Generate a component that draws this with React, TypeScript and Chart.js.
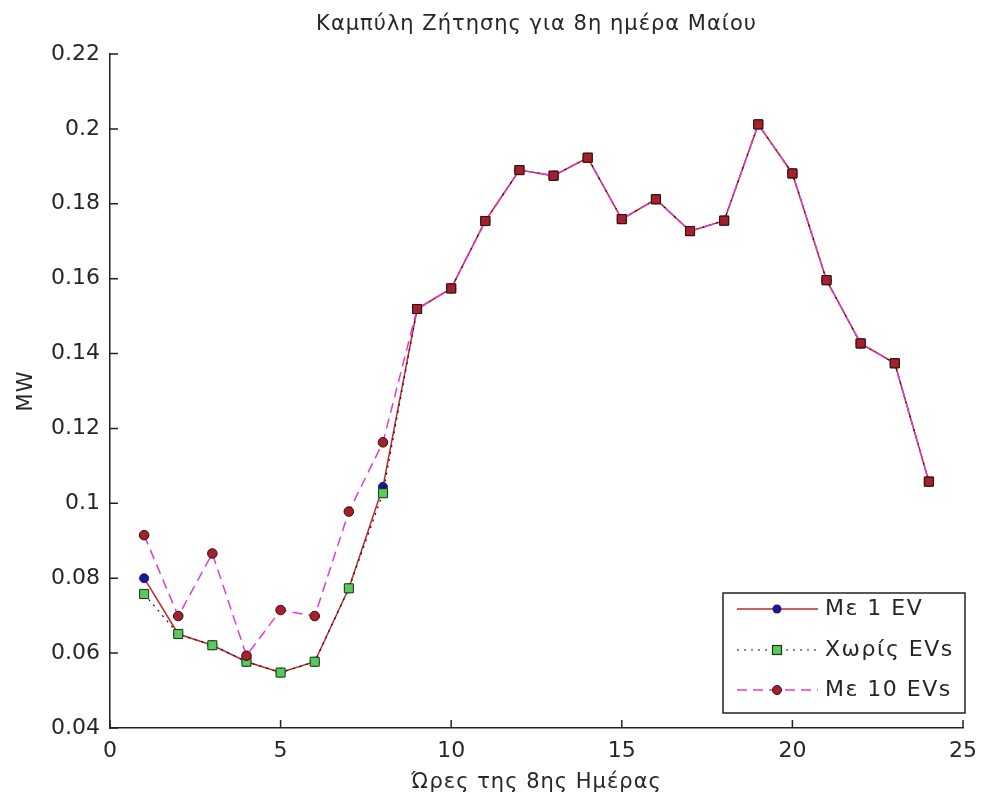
import React, { useEffect, useRef } from "react";
import { Chart, registerables } from "chart.js";

Chart.register(...registerables);

// ---- data ----
const hours = [1, 2, 3, 4, 5, 6, 7, 8, 9, 10, 11, 12, 13, 14, 15, 16, 17, 18, 19, 20, 21, 22, 23, 24];
const withOneEV = [0.080, 0.0651, 0.0621, 0.0577, 0.0548, 0.0577, 0.0773, 0.1044, 0.1519, 0.1574, 0.1754, 0.1890, 0.1875, 0.1923, 0.1759, 0.1812, 0.1727, 0.1755, 0.2012, 0.1881, 0.1596, 0.1427, 0.1374, 0.1058];
const withoutEVs = [0.0758, 0.0651, 0.0621, 0.0577, 0.0548, 0.0577, 0.0773, 0.1027, 0.1519, 0.1574, 0.1754, 0.1890, 0.1875, 0.1923, 0.1759, 0.1812, 0.1727, 0.1755, 0.2012, 0.1881, 0.1596, 0.1427, 0.1374, 0.1058];
const withTenEVs = [0.0915, 0.0699, 0.0866, 0.0593, 0.0715, 0.0699, 0.0978, 0.1163, 0.1519, 0.1574, 0.1754, 0.1890, 0.1875, 0.1923, 0.1759, 0.1812, 0.1727, 0.1755, 0.2012, 0.1881, 0.1596, 0.1427, 0.1374, 0.1058];
const xTicks = [0, 5, 10, 15, 20, 25];
const yTicks = [0.04, 0.06, 0.08, 0.1, 0.12, 0.14, 0.16, 0.18, 0.2, 0.22];
const seriesLabels = ["Με 1 EV", "Χωρίς EVs", "Με 10 EVs"];
const titleText = "Καμπύλη Ζήτησης για 8η ημέρα Μαίου";
const xLabelText = "Ώρες της 8ης Ημέρας";
const yLabelText = "MW";

// ---- styles ----
const FONT = "'DejaVu Sans', sans-serif";
const TEXT_COLOR = "#262626";
const AXIS_COLOR = "#222";
const RED_LINE = "#c0282c";
const MAGENTA = "#e03cd8";
const BLUE_FILL = "#1a1a8c";
const GREEN_FILL = "#5cc85c";
const GREEN_EDGE = "#123a12";
const DARKRED_FILL = "#a3202e";
const DARKRED_EDGE = "#3a0a0a";

const toPoints = (ys: number[]) => hours.map((h, i) => ({ x: h, y: ys[i] }));

const decorPlugin = {
  id: "decor",
  afterDraw(chart: any) {
    const { ctx, chartArea, scales } = chart;
    const xs = scales.x;
    const ys = scales.y;
    ctx.save();
    // inward tick marks
    ctx.strokeStyle = AXIS_COLOR;
    ctx.lineWidth = 1.5;
    ctx.beginPath();
    yTicks.forEach((v) => {
      const py = ys.getPixelForValue(v);
      ctx.moveTo(chartArea.left, py);
      ctx.lineTo(chartArea.left + 8, py);
    });
    xTicks.forEach((v) => {
      const px = xs.getPixelForValue(v);
      ctx.moveTo(px, chartArea.bottom);
      ctx.lineTo(px, chartArea.bottom - 8);
    });
    ctx.stroke();

    // title
    ctx.fillStyle = TEXT_COLOR;
    ctx.font = `21px ${FONT}`;
    (ctx as any).letterSpacing = "1px";
    ctx.textAlign = "center";
    ctx.textBaseline = "alphabetic";
    const cx = (chartArea.left + chartArea.right) / 2;
    ctx.fillText(titleText, cx, 30);
    // x label
    ctx.fillText(xLabelText, cx, 788);
    // y label
    ctx.save();
    ctx.translate(32, (chartArea.top + chartArea.bottom) / 2);
    ctx.rotate(-Math.PI / 2);
    ctx.fillText(yLabelText, 0, 0);
    ctx.restore();
    (ctx as any).letterSpacing = "0px";

    // legend
    const bx = 723, by = 593, bw = 242, bh = 120;
    ctx.fillStyle = "#fff";
    ctx.fillRect(bx, by, bw, bh);
    ctx.strokeStyle = "#222";
    ctx.lineWidth = 1.5;
    ctx.strokeRect(bx, by, bw, bh);
    const rows = [609, 650, 690];
    const l0 = 737, l1 = 818, mx = 777;
    ctx.lineWidth = 1.5;
    // row 1
    ctx.strokeStyle = RED_LINE;
    ctx.setLineDash([]);
    ctx.beginPath(); ctx.moveTo(l0, rows[0]); ctx.lineTo(l1, rows[0]); ctx.stroke();
    ctx.fillStyle = BLUE_FILL;
    ctx.beginPath(); ctx.arc(mx, rows[0], 4.5, 0, Math.PI * 2); ctx.fill();
    // row 2
    ctx.strokeStyle = "#111";
    ctx.lineWidth = 1.2;
    ctx.setLineDash([2, 5]);
    ctx.beginPath(); ctx.moveTo(l0, rows[1]); ctx.lineTo(l1, rows[1]); ctx.stroke();
    ctx.setLineDash([]);
    ctx.fillStyle = GREEN_FILL;
    ctx.strokeStyle = GREEN_EDGE;
    ctx.fillRect(mx - 4.5, rows[1] - 4.5, 9, 9);
    ctx.strokeRect(mx - 4.5, rows[1] - 4.5, 9, 9);
    // row 3
    ctx.strokeStyle = MAGENTA;
    ctx.lineWidth = 1.5;
    ctx.setLineDash([10, 6]);
    ctx.beginPath(); ctx.moveTo(l0, rows[2]); ctx.lineTo(l1, rows[2]); ctx.stroke();
    ctx.setLineDash([]);
    ctx.fillStyle = DARKRED_FILL;
    ctx.strokeStyle = DARKRED_EDGE;
    ctx.lineWidth = 1;
    ctx.beginPath(); ctx.arc(mx, rows[2], 4.5, 0, Math.PI * 2); ctx.fill(); ctx.stroke();
    // texts
    ctx.fillStyle = TEXT_COLOR;
    ctx.font = `22px ${FONT}`;
    (ctx as any).letterSpacing = "1.5px";
    ctx.textAlign = "left";
    ctx.textBaseline = "middle";
    seriesLabels.forEach((t, i) => ctx.fillText(t, 825, rows[i]));
    (ctx as any).letterSpacing = "0px";
    ctx.restore();
  },
};

export default function App() {
  const ref = useRef<HTMLCanvasElement | null>(null);
  useEffect(() => {
    document.body.style.margin = "0";
    if (!ref.current) return;
    const chart = new Chart(ref.current, {
      type: "line",
      data: {
        datasets: [
          {
            label: seriesLabels[0],
            data: toPoints(withOneEV),
            borderColor: RED_LINE,
            borderWidth: 1.5,
            pointStyle: "circle",
            pointRadius: 4.5,
            pointBackgroundColor: BLUE_FILL,
            pointBorderColor: BLUE_FILL,
            pointBorderWidth: 1,
            order: 3,
          },
          {
            label: seriesLabels[1],
            data: toPoints(withoutEVs),
            borderColor: "#111",
            borderWidth: 1.2,
            borderDash: [2, 5],
            pointStyle: "rect",
            pointRadius: 6.4,
            pointBackgroundColor: GREEN_FILL,
            pointBorderColor: GREEN_EDGE,
            pointBorderWidth: 1,
            order: 2,
          },
          {
            label: seriesLabels[2],
            data: toPoints(withTenEVs),
            borderColor: MAGENTA,
            borderWidth: 1.5,
            borderDash: [10, 6],
            pointStyle: (c: any) => (c.dataIndex >= 8 ? "rect" : "circle"),
            pointRadius: (c: any) => (c.dataIndex >= 8 ? 6.4 : 4.8),
            pointBackgroundColor: DARKRED_FILL,
            pointBorderColor: DARKRED_EDGE,
            pointBorderWidth: 1,
            order: 1,
          },
        ],
      },
      options: {
        animation: false,
        responsive: false,
        devicePixelRatio: 1,
        layout: { padding: { top: 54, right: 21, left: 0, bottom: 0 } },
        plugins: { legend: { display: false }, title: { display: false }, tooltip: { enabled: false } },
        elements: { line: { tension: 0 } },
        scales: {
          x: {
            type: "linear",
            min: 0,
            max: 25,
            grid: { display: false, drawTicks: false },
            border: { display: true, color: AXIS_COLOR, width: 1.5 },
            afterBuildTicks: (s: any) => { s.ticks = xTicks.map((v) => ({ value: v })); },
            afterFit: (s: any) => { s.height = 75; },
            ticks: {
              padding: 10,
              color: TEXT_COLOR,
              font: { family: FONT, size: 22 },
              maxRotation: 0,
              callback: (v: any) => String(v),
            },
          },
          y: {
            type: "linear",
            min: 0.04,
            max: 0.22,
            grid: { display: false, drawTicks: false },
            border: { display: true, color: AXIS_COLOR, width: 1.5 },
            afterBuildTicks: (s: any) => { s.ticks = yTicks.map((v) => ({ value: v })); },
            afterFit: (s: any) => { s.width = 110; },
            ticks: {
              padding: 10,
              color: TEXT_COLOR,
              font: { family: FONT, size: 22 },
              callback: (v: any) => String(Number(Number(v).toFixed(2))),
            },
          },
        },
      },
      plugins: [decorPlugin],
    });
    return () => chart.destroy();
  }, []);
  return (
    <div style={{ position: "absolute", left: 0, top: 0, width: 987, height: 803 }}>
      <canvas ref={ref} width={987} height={803} />
    </div>
  );
}
